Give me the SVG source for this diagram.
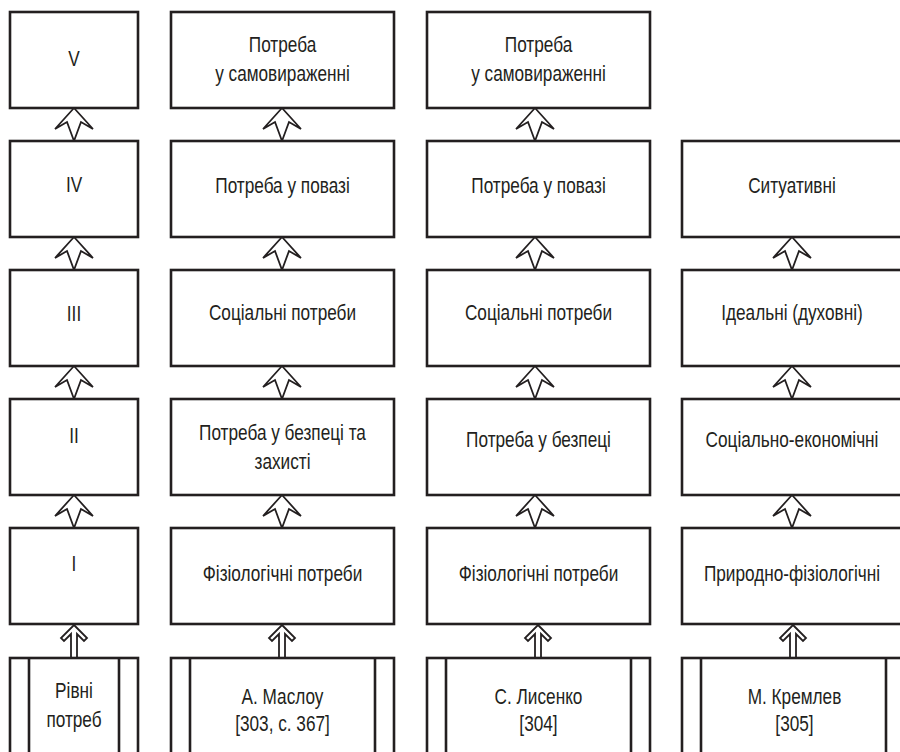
<svg xmlns="http://www.w3.org/2000/svg" xmlns:xlink="http://www.w3.org/1999/xlink" width="900" height="752" viewBox="0 0 900 752">
<style>
.box{fill:#fff;stroke:#231f20;stroke-width:2.6}
.ln{stroke:#231f20;stroke-width:2.6;fill:none}
.arr{fill:#fff;stroke:#231f20;stroke-width:1.8;stroke-linejoin:miter}
text{font-family:"Liberation Sans",Arial,sans-serif;font-size:22.5px;fill:#231f20;text-anchor:middle}
</style>
<defs>
<polygon id="up" class="arr" points="0,0 -19,21 -7,14 0,33 7,14 19,21"/>
<polygon id="up2" class="arr" points="0,0 13,13 10,16 3,9 3,34 -3,34 -3,9 -10,16 -13,13"/>
</defs>
<rect width="900" height="752" fill="#fff"/>
<g id="connectors">
<use xlink:href="#up" x="74" y="108"/>
<use xlink:href="#up" x="74" y="237"/>
<use xlink:href="#up" x="74" y="366"/>
<use xlink:href="#up" x="74" y="495"/>
<use xlink:href="#up" x="282" y="108"/>
<use xlink:href="#up" x="282" y="237"/>
<use xlink:href="#up" x="282" y="366"/>
<use xlink:href="#up" x="282" y="495"/>
<use xlink:href="#up" x="535" y="108"/>
<use xlink:href="#up" x="535" y="237"/>
<use xlink:href="#up" x="535" y="366"/>
<use xlink:href="#up" x="535" y="495"/>
<use xlink:href="#up" x="792" y="237"/>
<use xlink:href="#up" x="792" y="366"/>
<use xlink:href="#up" x="792" y="495"/>
<use xlink:href="#up2" x="74" y="625"/>
<use xlink:href="#up2" x="282" y="625"/>
<use xlink:href="#up2" x="538" y="625"/>
<use xlink:href="#up2" x="793" y="625"/>
</g>
<g id="c1r5"><rect class="box" x="10" y="12" width="128" height="96"/><text transform="translate(74,66) scale(0.765,1)">V</text></g>
<g id="c1r4"><rect class="box" x="10" y="141" width="128" height="96"/><text transform="translate(74,192) scale(0.765,1)">IV</text></g>
<g id="c1r3"><rect class="box" x="10" y="270" width="128" height="96"/><text transform="translate(74,321) scale(0.765,1)">III</text></g>
<g id="c1r2"><rect class="box" x="10" y="399" width="128" height="96"/><text transform="translate(74,443) scale(0.765,1)">II</text></g>
<g id="c1r1"><rect class="box" x="10" y="528" width="128" height="96"/><text transform="translate(74,571) scale(0.765,1)">I</text></g>
<g id="c1b"><rect class="box" x="10" y="658" width="128" height="120"/><line class="ln" x1="29" y1="658" x2="29" y2="760"/><line class="ln" x1="119" y1="658" x2="119" y2="760"/><text transform="translate(74,698) scale(0.765,1)">Рівні</text><text transform="translate(74,727) scale(0.765,1)">потреб</text></g>

<g id="c2r5"><rect class="box" x="171" y="12" width="223" height="96"/><text transform="translate(282.5,52) scale(0.765,1)">Потреба</text><text transform="translate(282.5,81) scale(0.765,1)">у самовираженні</text></g>
<g id="c2r4"><rect class="box" x="171" y="141" width="223" height="96"/><text transform="translate(282.5,193) scale(0.765,1)">Потреба у повазі</text></g>
<g id="c2r3"><rect class="box" x="171" y="270" width="223" height="96"/><text transform="translate(282.5,320) scale(0.765,1)">Соціальні потреби</text></g>
<g id="c2r2"><rect class="box" x="171" y="399" width="223" height="96"/><text transform="translate(282.5,440) scale(0.765,1)">Потреба у безпеці та</text><text transform="translate(282.5,469) scale(0.765,1)">захисті</text></g>
<g id="c2r1"><rect class="box" x="171" y="528" width="223" height="96"/><text transform="translate(282.5,581) scale(0.765,1)">Фізіологічні потреби</text></g>
<g id="c2b"><rect class="box" x="171" y="658" width="223" height="120"/><line class="ln" x1="190" y1="658" x2="190" y2="760"/><line class="ln" x1="375" y1="658" x2="375" y2="760"/><text transform="translate(282.5,704) scale(0.765,1)">А. Маслоу</text><text transform="translate(282.5,731) scale(0.765,1)">[303, с. 367]</text></g>

<g id="c3r5"><rect class="box" x="427" y="12" width="223" height="96"/><text transform="translate(538.5,52) scale(0.765,1)">Потреба</text><text transform="translate(538.5,81) scale(0.765,1)">у самовираженні</text></g>
<g id="c3r4"><rect class="box" x="427" y="141" width="223" height="96"/><text transform="translate(538.5,193) scale(0.765,1)">Потреба у повазі</text></g>
<g id="c3r3"><rect class="box" x="427" y="270" width="223" height="96"/><text transform="translate(538.5,320) scale(0.765,1)">Соціальні потреби</text></g>
<g id="c3r2"><rect class="box" x="427" y="399" width="223" height="96"/><text transform="translate(538.5,447) scale(0.765,1)">Потреба у безпеці</text></g>
<g id="c3r1"><rect class="box" x="427" y="528" width="223" height="96"/><text transform="translate(538.5,581) scale(0.765,1)">Фізіологічні потреби</text></g>
<g id="c3b"><rect class="box" x="427" y="658" width="223" height="120"/><line class="ln" x1="446" y1="658" x2="446" y2="760"/><line class="ln" x1="631" y1="658" x2="631" y2="760"/><text transform="translate(538.5,704) scale(0.765,1)">С. Лисенко</text><text transform="translate(538.5,731) scale(0.765,1)">[304]</text></g>

<g id="c4r4"><rect class="box" x="682" y="141" width="223" height="96"/><text transform="translate(792,193) scale(0.765,1)">Ситуативні</text></g>
<g id="c4r3"><rect class="box" x="682" y="270" width="223" height="96"/><text transform="translate(792,320) scale(0.765,1)">Ідеальні (духовні)</text></g>
<g id="c4r2"><rect class="box" x="682" y="399" width="223" height="96"/><text transform="translate(792,447) scale(0.765,1)">Соціально-економічні</text></g>
<g id="c4r1"><rect class="box" x="682" y="528" width="223" height="96"/><text transform="translate(792,581) scale(0.765,1)">Природно-фізіологічні</text></g>
<g id="c4b"><rect class="box" x="682" y="658" width="223" height="120"/><line class="ln" x1="701" y1="658" x2="701" y2="760"/><line class="ln" x1="886" y1="658" x2="886" y2="760"/><text transform="translate(794.5,704) scale(0.765,1)">М. Кремлев</text><text transform="translate(794.5,731) scale(0.765,1)">[305]</text></g>
</svg>
